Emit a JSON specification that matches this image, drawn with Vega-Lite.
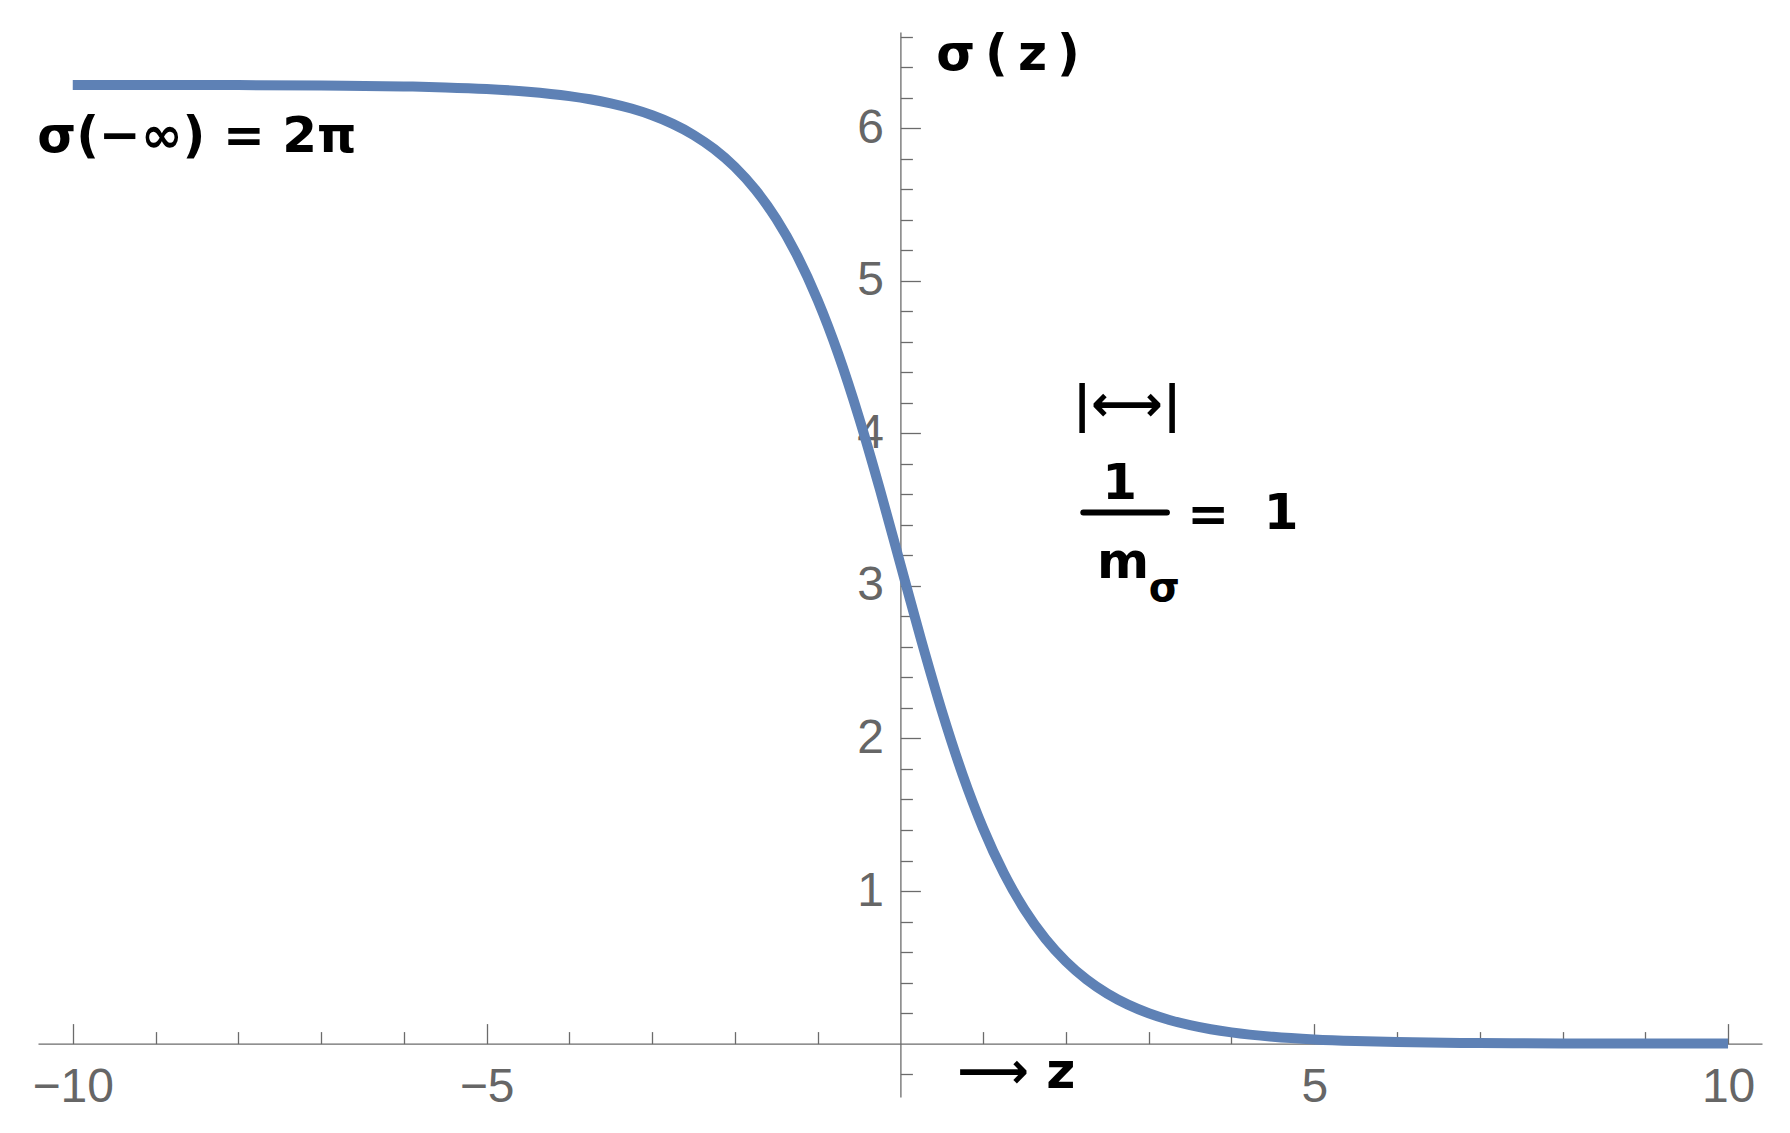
{
  "$schema": "https://vega.github.io/schema/vega-lite/v6.json",
  "width": 1724,
  "height": 1065,
  "autosize": "none",
  "padding": {"left": 38, "top": 32, "right": 28, "bottom": 36},
  "background": "white",
  "config": {"view": {"stroke": null}},
  "datasets": {
    "curve": [
      {"x": -10, "y": 6.28301}, {"x": -9, "y": 6.2827}, {"x": -8, "y": 6.28185}, {"x": -7, "y": 6.27954},
      {"x": -6, "y": 6.27328}, {"x": -5.5, "y": 6.26684}, {"x": -5, "y": 6.25624}, {"x": -4.5, "y": 6.23876},
      {"x": -4, "y": 6.20993}, {"x": -3.75, "y": 6.18914}, {"x": -3.5, "y": 6.16244}, {"x": -3.25, "y": 6.12817},
      {"x": -3, "y": 6.08421}, {"x": -2.75, "y": 6.02783}, {"x": -2.5, "y": 5.95559}, {"x": -2.25, "y": 5.86313},
      {"x": -2, "y": 5.74511}, {"x": -1.75, "y": 5.59499}, {"x": -1.5, "y": 5.40506}, {"x": -1.25, "y": 5.16708},
      {"x": -1, "y": 4.87313}, {"x": -0.75, "y": 4.51816}, {"x": -0.5, "y": 4.10238}, {"x": -0.25, "y": 3.63648},
      {"x": 0, "y": 3.14159}, {"x": 0.25, "y": 2.64671}, {"x": 0.5, "y": 2.18081}, {"x": 0.75, "y": 1.76503},
      {"x": 1, "y": 1.41006}, {"x": 1.25, "y": 1.11611}, {"x": 1.5, "y": 0.87813}, {"x": 1.75, "y": 0.6882},
      {"x": 2, "y": 0.53808}, {"x": 2.25, "y": 0.42006}, {"x": 2.5, "y": 0.3276}, {"x": 2.75, "y": 0.25536},
      {"x": 3, "y": 0.19898}, {"x": 3.25, "y": 0.15502}, {"x": 3.5, "y": 0.12075}, {"x": 3.75, "y": 0.09405},
      {"x": 4, "y": 0.07326}, {"x": 4.5, "y": 0.04443}, {"x": 5, "y": 0.02695}, {"x": 5.5, "y": 0.01635},
      {"x": 6, "y": 0.00992}, {"x": 7, "y": 0.00365}, {"x": 8, "y": 0.00134}, {"x": 9, "y": 0.00049},
      {"x": 10, "y": 0.00018}
    ],
    "notes": [
      {"x": -8.5, "y": 5.94, "label": "σ(−∞) = 2π"},
      {"x": 1.3, "y": 6.48, "label": "σ\u2009(\u2009z\u2009)"},
      {"x": 2.74, "y": 4.18, "label": "|⟷|"},
      {"x": 2.65, "y": 3.67, "label": "1"},
      {"x": 2.69, "y": 3.15, "label": "m"},
      {"x": 3.72, "y": 3.46, "label": "="},
      {"x": 4.6, "y": 3.47, "label": "1"},
      {"x": 1.4, "y": -0.19, "label": "⟶ z"}
    ],
    "subs": [
      {"x": 3.19, "y": 2.98, "label": "σ"}
    ],
    "bars": [
      {"x": 2.21, "x2": 3.22, "y": 3.48}
    ]
  },
  "encoding": {
    "x": {
      "field": "x", "type": "quantitative",
      "scale": {"domain": [-10.42, 10.41], "nice": false, "zero": false},
      "axis": {
        "title": null,
        "values": [-10, -9, -8, -7, -6, -5, -4, -3, -2, -1, 1, 2, 3, 4, 5, 6, 7, 8, 9, 10],
        "offset": -53.4,
        "grid": false,
        "format": "d",
        "domainColor": "#6b6b6b", "domainWidth": 1.3,
        "tickColor": "#6b6b6b", "tickWidth": 1.3,
        "tickSize": {"condition": {"test": "datum.value % 5 === 0", "value": -20}, "value": -12},
        "labelExpr": "datum.value % 5 === 0 ? datum.label : ''",
        "labelFont": "Liberation Sans", "labelFontSize": 48, "labelColor": "#666666",
        "labelPadding": 40, "labelFlush": false, "labelOverlap": false
      }
    },
    "y": {
      "field": "y", "type": "quantitative",
      "scale": {"domain": [-0.35, 6.63], "nice": false, "zero": false},
      "axis": {
        "title": null,
        "values": [-0.2, 0.2, 0.4, 0.6, 0.8, 1, 1.2, 1.4, 1.6, 1.8, 2, 2.2, 2.4, 2.6, 2.8, 3, 3.2, 3.4, 3.6, 3.8, 4, 4.2, 4.4, 4.6, 4.8, 5, 5.2, 5.4, 5.6, 5.8, 6, 6.2, 6.4, 6.6],
        "offset": -862.4,
        "grid": false,
        "format": ".1f",
        "domainColor": "#6b6b6b", "domainWidth": 1.3,
        "tickColor": "#6b6b6b", "tickWidth": 1.3,
        "tickSize": {"condition": {"test": "datum.value % 1 === 0", "value": -20}, "value": -12},
        "labelExpr": "datum.value % 1 === 0 ? format(datum.value, 'd') : ''",
        "labelFont": "Liberation Sans", "labelFontSize": 48, "labelColor": "#666666",
        "labelPadding": 37, "labelFlush": false, "labelOverlap": false
      }
    }
  },
  "layer": [
    {
      "data": {"name": "curve"},
      "mark": {"type": "line", "color": "#5E81B5", "strokeWidth": 10, "interpolate": "monotone", "strokeCap": "butt"}
    },
    {
      "data": {"name": "bars"},
      "mark": {"type": "rule", "color": "black", "strokeWidth": 6, "strokeCap": "round"},
      "encoding": {
        "x2": {"field": "x2"}
      }
    },
    {
      "data": {"name": "notes"},
      "mark": {"type": "text", "font": "DejaVu Sans", "fontWeight": "bold", "fontSize": 50, "color": "black", "align": "center", "baseline": "middle"},
      "encoding": {
        "text": {"field": "label"}
      }
    },
    {
      "data": {"name": "subs"},
      "mark": {"type": "text", "font": "DejaVu Sans", "fontWeight": "bold", "fontSize": 40, "color": "black", "align": "center", "baseline": "middle"},
      "encoding": {
        "text": {"field": "label"}
      }
    }
  ]
}
